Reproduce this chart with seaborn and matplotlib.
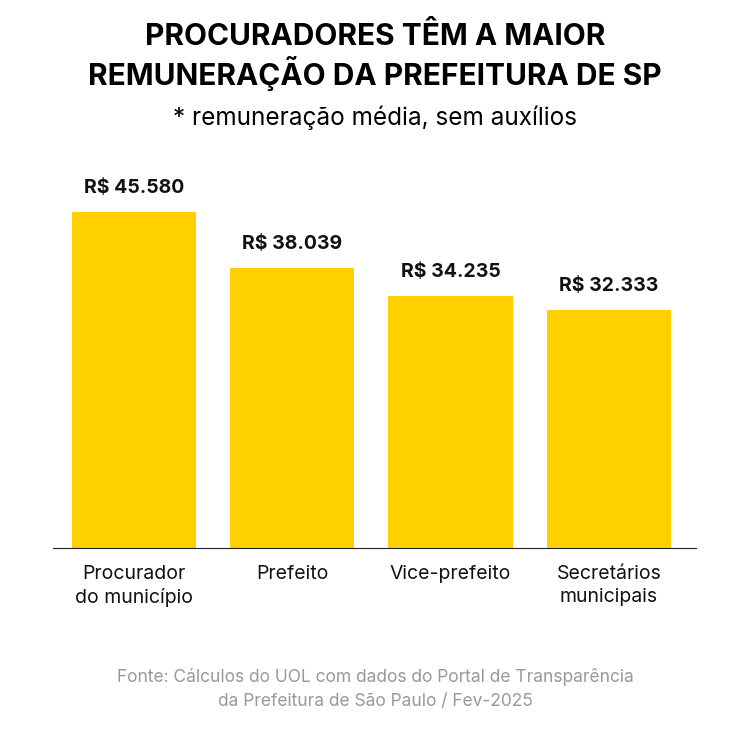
import matplotlib
matplotlib.use("Agg")
import matplotlib.pyplot as plt
import seaborn as sns
import pandas as pd

categories = ["Procurador\ndo município", "Prefeito", "Vice-prefeito", "Secretários\nmunicipais"]
values = [45580, 38039, 34235, 32333]
value_labels = ["R$ 45.580", "R$ 38.039", "R$ 34.235", "R$ 32.333"]

df = pd.DataFrame({"cargo": categories, "valor": values})
plt.rcParams["font.family"] = "Inter"

fig = plt.figure(figsize=(7.5, 7.37), dpi=100)
ax = fig.add_axes([0.0707, 0.2564, 0.857, 0.540])
sns.barplot(data=df, x="cargo", y="valor", color="#FFD000", saturation=1, width=0.785, ax=ax)
ax.set_xlim(-0.513, 3.55)
ax.set_ylim(0, 54000)
for i, (v, lab) in enumerate(zip(values, value_labels)):
    ax.text(i, v + 2000, lab, ha="center", va="bottom", fontsize=14, fontweight="bold", color="#111111")

for s in ["top", "right", "left"]:
    ax.spines[s].set_visible(False)
ax.spines["bottom"].set_color("#222222")
ax.set_yticks([])
ax.set_xlabel("")
ax.set_ylabel("")
ax.tick_params(axis="x", length=0, labelsize=14, pad=12, colors="#111111")
for t in ax.get_xticklabels():
    t.set_linespacing(1.35)

fig.text(0.5, 0.95, "PROCURADORES TÊM A MAIOR", ha="center", va="center", fontsize=21.5, fontweight="bold")
fig.text(0.5, 0.90, "REMUNERAÇÃO DA PREFEITURA DE SP", ha="center", va="center", fontsize=21.5, fontweight="bold")
fig.text(0.5, 0.84, "* remuneração média, sem auxílios", ha="center", va="center", fontsize=17.5)
fig.text(0.5, 0.065, "Fonte: Cálculos do UOL com dados do Portal de Transparência\nda Prefeitura de São Paulo / Fev-2025",
         ha="center", va="center", fontsize=12.5, color="#999999", linespacing=1.5)

fig.savefig("out.png", dpi=100, facecolor="white")
